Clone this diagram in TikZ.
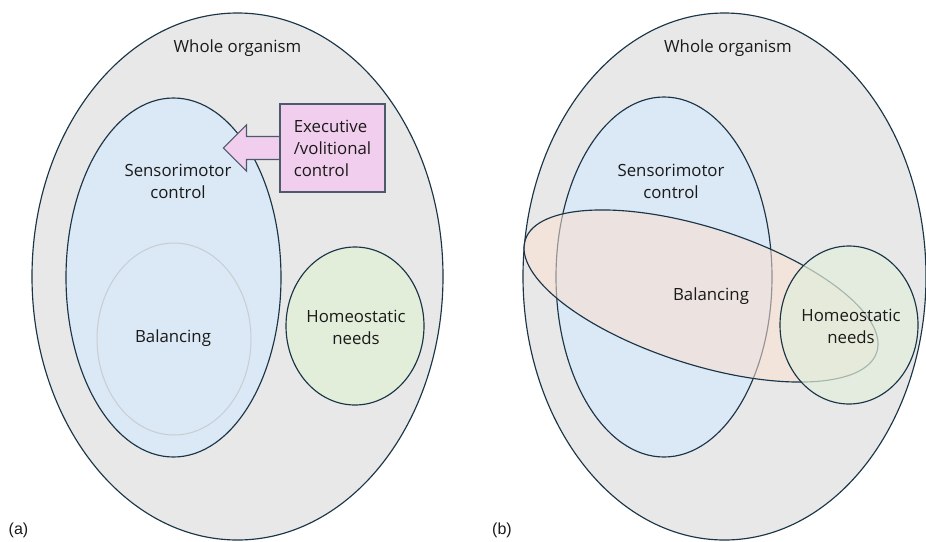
\documentclass[tikz,border=0pt]{standalone}
\usepackage{fontspec}
\setmainfont{Open Sans}
\newfontfamily\labelfont{Liberation Sans}
\usetikzlibrary{shapes.geometric}
\definecolor{organism}{HTML}{E8E8E8}
\definecolor{edge}{HTML}{1A3547}
\definecolor{sensor}{HTML}{DBE8F5}
\definecolor{homeo}{HTML}{E2EEDA}
\definecolor{balfill}{HTML}{FBE0D2}
\definecolor{balring}{HTML}{C8CDD2}
\definecolor{execfill}{HTML}{F2CEEE}
\definecolor{execedge}{HTML}{4C5B6C}
\definecolor{ink}{HTML}{1A1A1A}
\tikzset{
  blob/.style={ellipse, inner sep=0pt, outer sep=0pt, draw=edge, line width=1.15pt},
  txt/.style={font=\fontsize{16.8}{22}\selectfont, text=ink, align=center, inner sep=0pt},
  panel/.style={font=\labelfont\fontsize{16}{18}\selectfont, text=ink, inner sep=0pt},
  execbox/.style={draw=execedge, fill=execfill, line width=1.1pt, minimum width=105pt, minimum height=88pt, inner sep=0pt, align=left, font=\fontsize{16.8}{22}\selectfont, text=ink},
  blockarrow/.style={draw=execedge, fill=execfill, line width=1.1pt, line join=miter}
}
\begin{document}
\begin{tikzpicture}[x=1pt,y=-1pt]
\clip (0,0) rectangle (926,541);
\fill[white] (0,0) rectangle (926,541);
% ---------------- panel (a)
\node[blob, fill=organism, minimum width=411pt, minimum height=527pt] (wa) at (237.5,276.5) {};
\node[blob, fill=sensor, minimum width=215pt, minimum height=359pt] (sa) at (173.5,277.5) {};
\node[ellipse, inner sep=0pt, draw=balring, line width=1pt, minimum width=154pt, minimum height=192pt] (ba) at (174,339) {};
\node[blob, fill=homeo, minimum width=138pt, minimum height=158pt] (ha) at (355,326) {};
\node[txt] (wta) at (237.5,48) {Whole organism};
\node[txt] (sta) at (178,181) {Sensorimotor\\control};
\node[txt] (bta) at (173,338) {Balancing};
\node[txt] (hta) at (356,327) {Homeostatic\\needs};
\node[execbox] (ex) at (332.5,148) {Executive\\/volitional\\control};
\draw[blockarrow] ([yshift=11.5pt]ex.west) -- ++(-33,0) -- ++(0,-11.5) -- ++(-23,23) -- ++(23,23) -- ++(0,-11.5) -- ([yshift=-11.5pt]ex.west);
\draw[execedge, line width=1.1pt] (ex.north west) -- (ex.south west);
\node[panel] (la) at (18.5,530) {(a)};
% ---------------- panel (b)
\node[blob, fill=organism, minimum width=403pt, minimum height=527pt] (wb) at (724.5,276.5) {};
\node[blob, fill=sensor, minimum width=216pt, minimum height=360pt] (sb) at (664,277) {};
\node[blob, fill=balfill, fill opacity=0.55, minimum width=369pt, minimum height=137pt, rotate=-17.7] (bb) at (701,296) {};
\node[blob, fill=homeo, fill opacity=0.7, minimum width=138pt, minimum height=158pt] (hb) at (849,325) {};
\node[txt] (wtb) at (728,48) {Whole organism};
\node[txt] (stb) at (671,181) {Sensorimotor\\control};
\node[txt] (btb) at (711,296) {Balancing};
\node[txt] (htb) at (851,326) {Homeostatic\\needs};
\node[panel] (lb) at (502,530) {(b)};
\end{tikzpicture}
\end{document}
